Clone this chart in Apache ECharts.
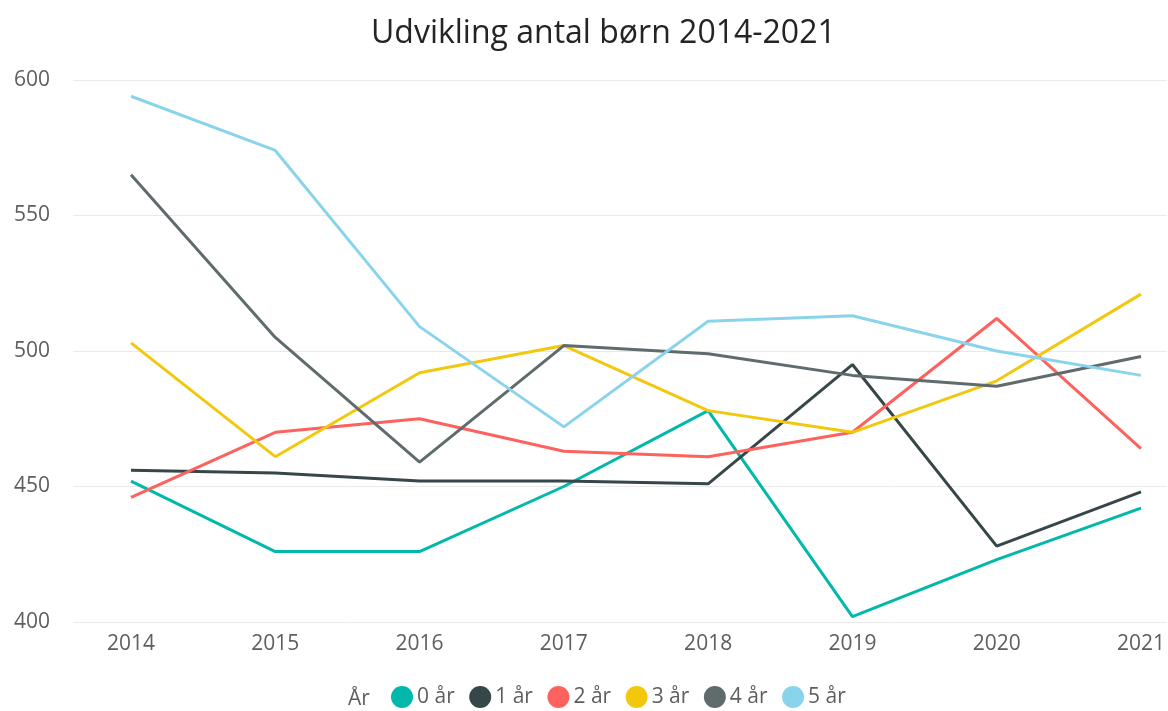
<!DOCTYPE html>
<html lang="da" style="height: 100%">

<head>
  <meta charset="utf-8" />
</head>

<body style="height: 100%; margin: 0; background: #fff">
  <div id="container" style="width: 1168px; height: 711px"></div>

  <script type="text/javascript" src="https://cdn.jsdelivr.net/npm/echarts@6.0.0/dist/echarts.min.js"></script>

  <script type="text/javascript">
    // data
    var years = [2014, 2015, 2016, 2017, 2018, 2019, 2020, 2021];
    var seriesNames = ["0 år", "1 år", "2 år", "3 år", "4 år", "5 år"];
    var age0 = [452, 426, 426, 450, 478, 402, 423, 442];
    var age1 = [456, 455, 452, 452, 451, 495, 428, 448];
    var age2 = [446, 470, 475, 463, 461, 470, 512, 464];
    var age3 = [503, 461, 492, 502, 478, 470, 489, 521];
    var age4 = [565, 505, 459, 502, 499, 491, 487, 498];
    var age5 = [594, 574, 509, 472, 511, 513, 500, 491];
    var colors = ["#01B8AA", "#374649", "#FD625E", "#F2C80F", "#5F6B6D", "#8AD4EB"];

    var font = "'Segoe UI', 'Open Sans', sans-serif";
    var allValues = [age0, age1, age2, age3, age4, age5];

    var dom = document.getElementById("container");
    var myChart = echarts.init(dom, null, { renderer: "canvas" });

    var option = {
      animation: false,
      color: colors,
      title: [
        {
          text: "Udvikling antal børn 2014-2021",
          left: 366,
          top: 13,
          textStyle: { fontFamily: font, fontSize: 32, fontWeight: "normal", color: "#252423" },
        },
        {
          text: "År",
          left: 343,
          top: 684,
          textStyle: { fontFamily: font, fontSize: 21, fontWeight: "normal", color: "#605E5C" },
        },
      ],
      legend: {
        left: 386,
        top: 681,
        icon: "circle",
        itemWidth: 22,
        itemHeight: 22,
        itemGap: 14.5,
        textStyle: { fontFamily: font, fontSize: 21, color: "#605E5C", padding: [0, 0, 0, -1] },
        data: seriesNames,
      },
      grid: {
        left: 73,
        right: 0,
        top: 80,
        bottom: 89,
      },
      xAxis: {
        type: "value",
        min: 2013.598,
        max: 2021.18,
        axisLine: { show: false },
        axisTick: { show: false },
        splitLine: { show: false },
        axisLabel: {
          customValues: years,
          formatter: function (v) { return String(v); },
          fontFamily: font,
          fontSize: 21,
          color: "#605E5C",
          margin: 12,
        },
      },
      yAxis: {
        type: "value",
        min: 400,
        max: 600,
        interval: 50,
        axisLine: { show: false },
        axisTick: { show: false },
        splitLine: { lineStyle: { color: "#E9E9E9", width: 1 } },
        axisLabel: { fontFamily: font, fontSize: 21, color: "#605E5C", margin: 23 },
      },
      series: seriesNames.map(function (name, i) {
        return {
          name: name,
          type: "line",
          symbol: "none",
          lineStyle: { width: 3 },
          data: years.map(function (y, j) { return [y, allValues[i][j]]; }),
        };
      }),
    };

    myChart.setOption(option);
    window.addEventListener("resize", myChart.resize);
  </script>
</body>

</html>
